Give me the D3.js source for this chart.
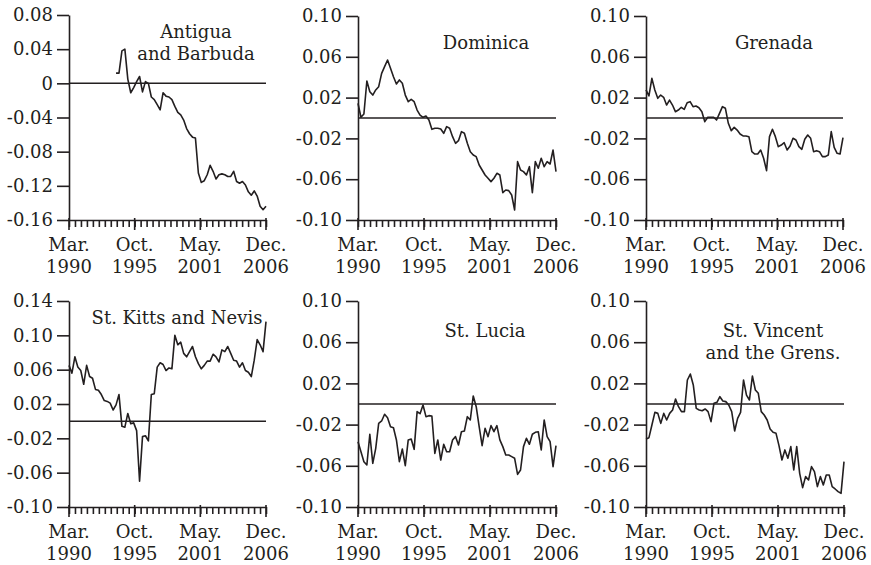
<!DOCTYPE html>
<html>
<head>
    <meta charset="utf-8">
    <title>ECCU real exchange rate deviations with D3.js</title>
    <script src="https://d3js.org/d3.v7.min.js"></script>
    <style>
        body { margin: 0; background: #fff; }
        svg text {
            font-family: "DejaVu Serif", serif;
            font-size: 18px;
            fill: #231f20;
        }
        .axis path, .axis line { stroke: #231f20; stroke-width: 1.6; }
        .series { fill: none; stroke: #231f20; stroke-width: 1.6; stroke-linejoin: round; }
        .zero { stroke: #231f20; stroke-width: 1.5; }
    </style>
</head>
<body>
    <div class="chart"></div>
    <script>
        // Quarterly values, Mar. 1990 (Q1) to Dec. 2006 (Q4): 68 points
        const antigua = [
            null, null, null, null, null, null, null, null,
            null, null, null, null, null, null, null, null,
            0.012, 0.012, 0.038, 0.040, 0.005, -0.011, -0.005, 0.002,
            0.008, -0.010, 0.002, 0.000, -0.016, -0.019, -0.025, -0.031,
            -0.011, -0.015, -0.016, -0.019, -0.027, -0.034, -0.037, -0.043,
            -0.053, -0.059, -0.063, -0.064, -0.105, -0.116, -0.114, -0.107,
            -0.096, -0.103, -0.112, -0.107, -0.106, -0.107, -0.109, -0.109,
            -0.103, -0.115, -0.117, -0.115, -0.119, -0.127, -0.131, -0.126,
            -0.132, -0.144, -0.148, -0.144
        ];
        const dominica = [
            0.0144, 0.0007, 0.0039, 0.0363, 0.0258, 0.0225, 0.0275, 0.0307,
            0.0438, 0.0503, 0.0569, 0.0487, 0.0405, 0.0333, 0.0373, 0.0340,
            0.0225, 0.0160, 0.0183, 0.0160, 0.0078, 0.0029, 0.0007, 0.0020,
            -0.0020, -0.0111, -0.0101, -0.0101, -0.0108, -0.0150, -0.0085, -0.0101,
            -0.0183, -0.0248, -0.0222, -0.0134, -0.0150, -0.0248, -0.0330, -0.0363,
            -0.0379, -0.0461, -0.0510, -0.0559, -0.0591, -0.0624, -0.0591, -0.0542,
            -0.0559, -0.0732, -0.0706, -0.0712, -0.0755, -0.0902, -0.0428, -0.0510,
            -0.0526, -0.0559, -0.0477, -0.0732, -0.0428, -0.0493, -0.0395, -0.0477,
            -0.0428, -0.0451, -0.0314, -0.0526
        ];
        const grenada = [
            0.0275, 0.0216, 0.0389, 0.0275, 0.0193, 0.0225, 0.0203, 0.0127,
            0.0176, 0.0127, 0.0062, 0.0078, 0.0105, 0.0085, 0.0150, 0.0160,
            0.0111, 0.0118, 0.0101, 0.0062, -0.0036, 0.0007, 0.0007, 0.0007,
            -0.0020, 0.0046, 0.0111, 0.0095, -0.0052, -0.0124, -0.0092, -0.0118,
            -0.0157, -0.0176, -0.0176, -0.0183, -0.0330, -0.0353, -0.0353, -0.0314,
            -0.0395, -0.0516, -0.0183, -0.0111, -0.0183, -0.0281, -0.0265, -0.0242,
            -0.0314, -0.0275, -0.0199, -0.0216, -0.0281, -0.0307, -0.0209, -0.0167,
            -0.0199, -0.0330, -0.0320, -0.0330, -0.0379, -0.0379, -0.0363, -0.0134,
            -0.0288, -0.0346, -0.0353, -0.0193
        ];
        const stKitts = [
            0.065, 0.056, 0.075, 0.063, 0.059, 0.043, 0.065, 0.052,
            0.050, 0.037, 0.036, 0.031, 0.024, 0.023, 0.021, 0.013,
            0.019, 0.031, -0.006, -0.007, 0.009, -0.003, -0.002, -0.011,
            -0.070, -0.018, -0.017, -0.023, 0.031, 0.032, 0.063, 0.068,
            0.066, 0.059, 0.062, 0.061, 0.100, 0.089, 0.092, 0.079,
            0.075, 0.081, 0.087, 0.075, 0.067, 0.061, 0.065, 0.070,
            0.070, 0.078, 0.075, 0.069, 0.083, 0.081, 0.087, 0.079,
            0.071, 0.070, 0.063, 0.068, 0.059, 0.057, 0.052, 0.071,
            0.095, 0.089, 0.081, 0.116
        ];
        const stLucia = [
            -0.0366, -0.0463, -0.0560, -0.0592, -0.0294, -0.0576, -0.0430, -0.0188,
            -0.0165, -0.0100, -0.0133, -0.0220, -0.0230, -0.0349, -0.0560, -0.0437,
            -0.0599, -0.0349, -0.0340, -0.0440, -0.0074, -0.0094, -0.0010, -0.0123,
            -0.0113, -0.0116, -0.0479, -0.0349, -0.0544, -0.0391, -0.0463, -0.0463,
            -0.0349, -0.0317, -0.0398, -0.0269, -0.0262, -0.0123, -0.0155, 0.0078,
            -0.0026, -0.0220, -0.0404, -0.0236, -0.0317, -0.0210, -0.0269, -0.0210,
            -0.0349, -0.0414, -0.0495, -0.0495, -0.0511, -0.0527, -0.0683, -0.0641,
            -0.0414, -0.0333, -0.0391, -0.0294, -0.0275, -0.0269, -0.0446, -0.0155,
            -0.0317, -0.0366, -0.0608, -0.0404
        ];
        const stVincent = [
            -0.0340, -0.0327, -0.0204, -0.0081, -0.0091, -0.0188, -0.0091, -0.0155,
            -0.0091, -0.0058, 0.0049, -0.0026, -0.0074, -0.0074, 0.0233, 0.0291,
            0.0185, -0.0042, -0.0058, -0.0065, -0.0048, -0.0074, -0.0171, 0.0007,
            0.0016, 0.0071, 0.0029, 0.0023, -0.0010, -0.0074, -0.0262, -0.0139,
            -0.0081, 0.0233, 0.0087, 0.0039, 0.0272, 0.0136, 0.0104, -0.0074,
            -0.0107, -0.0155, -0.0243, -0.0275, -0.0285, -0.0404, -0.0544, -0.0446,
            -0.0527, -0.0414, -0.0641, -0.0414, -0.0673, -0.0812, -0.0705, -0.0738,
            -0.0608, -0.0657, -0.0802, -0.0705, -0.0786, -0.0689, -0.0689, -0.0802,
            -0.0825, -0.0851, -0.0867, -0.0560
        ];

        // Axis labels (months since Mar. 1990)
        const majorMonths = [0, 67, 134, 201];
        const monthLabels = ["Mar.", "Oct.", "May.", "Dec."];
        const yearLabels = ["1990", "1995", "2001", "2006"];
        const ticksA = [0.08, 0.04, 0, -0.04, -0.08, -0.12, -0.16];
        const ticksB = [0.10, 0.06, 0.02, -0.02, -0.06, -0.10];
        const ticksC = [0.14, 0.10, 0.06, 0.02, -0.02, -0.06, -0.10];

        const panels = [
            {title: ["Antigua", "and Barbuda"], data: antigua, ticks: ticksA, x0: 69, x1: 266, top: 15, bottom: 220, tx: 127, ty: 23},
            {title: ["Dominica"], data: dominica, ticks: ticksB, x0: 358, x1: 556, top: 16, bottom: 220, tx: 128, ty: 33},
            {title: ["Grenada"], data: grenada, ticks: ticksB, x0: 646, x1: 843, top: 16, bottom: 220, tx: 128, ty: 33},
            {title: ["St. Kitts and Nevis"], data: stKitts, ticks: ticksC, x0: 69, x1: 266, top: 301, bottom: 507, tx: 108, ty: 23},
            {title: ["St. Lucia"], data: stLucia, ticks: ticksB, x0: 358, x1: 556, top: 301, bottom: 507, tx: 127, ty: 36},
            {title: ["St. Vincent", "and the Grens."], data: stVincent, ticks: ticksB, x0: 646, x1: 844, top: 301, bottom: 507, tx: 127, ty: 36}
        ];

        const svg = d3.select(".chart")
            .append("svg")
            .attr("width", 871)
            .attr("height", 565);

        const fmt = v => v === 0 ? "0" : v.toFixed(2);
        const minorMonths = d3.range(34).map(i => i * 201 / 33);

        panels.forEach(p => {
            const g = svg.append("g");

            const x = d3.scaleLinear().domain([0, 201]).range([p.x0, p.x1]);
            const y = d3.scaleLinear()
                .domain([d3.min(p.ticks), d3.max(p.ticks)])
                .range([p.bottom, p.top]);

            // y axis
            g.append("g")
                .attr("class", "axis")
                .attr("transform", `translate(${p.x0},0)`)
                .call(d3.axisLeft(y).tickValues(p.ticks).tickSize(12).tickSizeOuter(0)
                    .tickPadding(4).tickFormat(fmt))
                .call(a => a.attr("font-family", null).attr("font-size", null));

            // x axis with minor ticks
            g.append("g")
                .attr("class", "axis")
                .attr("transform", `translate(0,${p.bottom})`)
                .call(d3.axisBottom(x).tickValues(minorMonths).tickSize(7).tickSizeOuter(0).tickFormat(""));

            // major ticks and two-line labels
            const major = g.append("g").attr("class", "axis");
            major.selectAll("line")
                .data(majorMonths)
                .join("line")
                .attr("x1", d => x(d)).attr("x2", d => x(d))
                .attr("y1", p.bottom - 2).attr("y2", p.bottom + 10)
                .attr("stroke-width", 2);
            major.selectAll("text.month")
                .data(majorMonths)
                .join("text")
                .attr("class", "month")
                .attr("text-anchor", "middle")
                .attr("x", d => x(d))
                .attr("y", p.bottom + 31)
                .text((d, i) => monthLabels[i]);
            major.selectAll("text.year")
                .data(majorMonths)
                .join("text")
                .attr("class", "year")
                .attr("text-anchor", "middle")
                .attr("x", d => x(d))
                .attr("y", p.bottom + 53)
                .text((d, i) => yearLabels[i]);

            // zero reference line
            g.append("line")
                .attr("class", "zero")
                .attr("x1", p.x0).attr("x2", p.x1)
                .attr("y1", y(0)).attr("y2", y(0));

            // series
            const line = d3.line()
                .defined(d => d !== null)
                .x((d, i) => x(i * 3))
                .y(d => y(d));
            g.append("path")
                .datum(p.data)
                .attr("class", "series")
                .attr("d", line);

            // title
            g.append("text")
                .attr("text-anchor", "middle")
                .selectAll("tspan")
                .data(p.title)
                .join("tspan")
                .attr("x", p.x0 + p.tx)
                .attr("y", (d, i) => p.top + p.ty + i * 22)
                .text(d => d);
        });
    </script>
</body>
</html>
